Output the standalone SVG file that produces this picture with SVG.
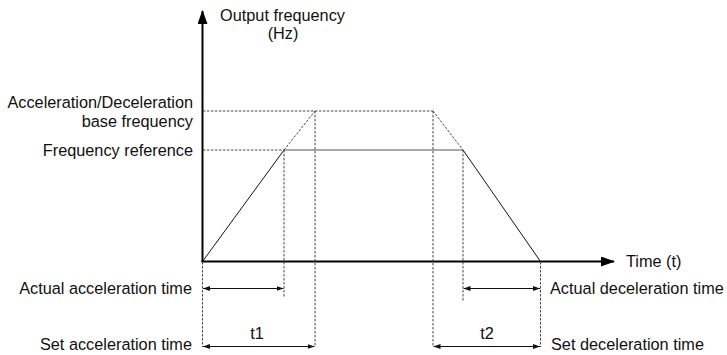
<svg xmlns="http://www.w3.org/2000/svg" width="727" height="355" viewBox="0 0 727 355">
<style>
text{font-family:"Liberation Sans",Arial,sans-serif;font-size:16.3px;fill:#111}
.axis{stroke:#000;stroke-width:2;fill:none}
.solid{stroke:#111;stroke-width:1;fill:none}
.ref{stroke:#555;stroke-width:1.2;fill:none}
.dash{stroke:#444;stroke-width:1;stroke-dasharray:2.5 1.5;fill:none}
.dim{stroke:#111;stroke-width:1;fill:none;marker-start:url(#sa);marker-end:url(#ea)}
</style>
<defs>
<marker id="big" markerWidth="14" markerHeight="10" refX="13" refY="5" orient="auto" markerUnits="userSpaceOnUse"><path d="M0,0 L14,5 L0,10 Z" fill="#000"/></marker>
<marker id="ea" markerWidth="7" markerHeight="5" refX="7" refY="2.5" orient="auto" markerUnits="userSpaceOnUse"><path d="M0,0 L7,2.5 L0,5 Z" fill="#111"/></marker>
<marker id="sa" markerWidth="7" markerHeight="5" refX="0" refY="2.5" orient="auto" markerUnits="userSpaceOnUse"><path d="M7,0 L0,2.5 L7,5 Z" fill="#111"/></marker>
</defs>
<g id="connectors">
<line class="axis" x1="202.5" y1="262" x2="202.5" y2="11" marker-end="url(#big)"/>
<line class="axis" x1="201.5" y1="261.5" x2="614" y2="261.5" marker-end="url(#big)"/>
<line class="dash" x1="203" y1="111" x2="433" y2="111"/>
<line class="dash" x1="203" y1="150" x2="284" y2="150"/>
<line class="ref" x1="284" y1="150" x2="463" y2="150"/>
<line class="solid" x1="202.5" y1="261.5" x2="284" y2="150"/>
<line class="dash" x1="284" y1="150" x2="315" y2="111"/>
<line class="dash" x1="433" y1="111" x2="463" y2="150"/>
<line class="solid" x1="463" y1="150" x2="540.5" y2="261.5"/>
<line class="dash" x1="284" y1="150" x2="284" y2="298"/>
<line class="dash" x1="315" y1="111" x2="315" y2="347"/>
<line class="dash" x1="433" y1="111" x2="433" y2="347"/>
<line class="dash" x1="463" y1="150" x2="463" y2="302"/>
<line class="dash" x1="202.5" y1="262" x2="202.5" y2="347"/>
<line class="dash" x1="540.5" y1="262" x2="540.5" y2="347"/>
<line class="dim" x1="203" y1="288.5" x2="283.5" y2="288.5"/>
<line class="dim" x1="203" y1="346.5" x2="314.5" y2="346.5"/>
<line class="dim" x1="463.5" y1="288.5" x2="540" y2="288.5"/>
<line class="dim" x1="433.5" y1="346.5" x2="540" y2="346.5"/>
</g>
<g id="labels">
<text x="282.5" y="21" text-anchor="middle">Output frequency</text>
<text x="283" y="39" text-anchor="middle">(Hz)</text>
<text x="193" y="108" text-anchor="end">Acceleration/Deceleration</text>
<text x="193" y="127" text-anchor="end">base frequency</text>
<text x="193" y="156" text-anchor="end">Frequency reference</text>
<text x="626" y="267">Time (t)</text>
<text x="192" y="294" text-anchor="end">Actual acceleration time</text>
<text x="192" y="350" text-anchor="end">Set acceleration time</text>
<text x="550" y="294">Actual deceleration time</text>
<text x="551" y="350">Set deceleration time</text>
<text x="257" y="339" text-anchor="middle">t1</text>
<text x="487" y="339" text-anchor="middle">t2</text>
</g>
</svg>
